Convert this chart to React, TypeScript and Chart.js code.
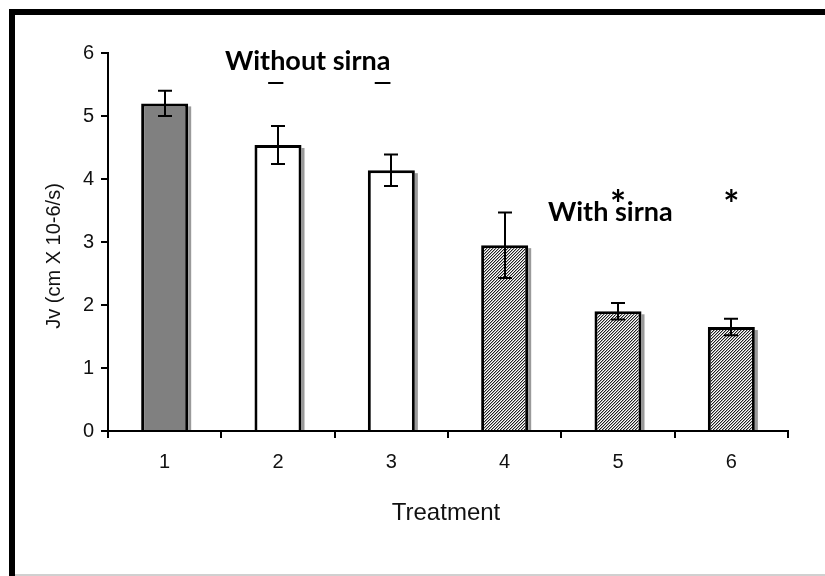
import React, { useEffect, useRef } from "react";
import { Chart, registerables } from "chart.js";

Chart.register(...registerables);

const categories = ["1", "2", "3", "4", "5", "6"];
const jvMeans = [5.2, 4.54, 4.14, 2.95, 1.9, 1.65];
const jvErrors = [0.2, 0.3, 0.25, 0.52, 0.13, 0.13];
const barFills = ["gray", "white", "white", "hatch", "hatch", "hatch"];
const significant = [false, false, false, false, true, true];
const yTitle = "Jv (cm X 10-6/s)";
const xTitle = "Treatment";
const groupWithout = "Without sirna";
const groupWith = "With sirna";
const asteriskLevel = 3.75;

function makeHatch(): CanvasPattern | string {
  const c = document.createElement("canvas");
  c.width = 3;
  c.height = 3;
  const g = c.getContext("2d");
  if (!g) return "#888";
  g.fillStyle = "#ffffff";
  g.fillRect(0, 0, 3, 3);
  for (let r = 0; r < 3; r++) {
    g.fillStyle = "#222222";
    g.fillRect((2 - r + 3) % 3, r, 1, 1);
    g.fillStyle = "#aaaaaa";
    g.fillRect((3 - r + 3) % 3, r, 1, 1);
  }
  return g.createPattern(c, "repeat") || "#888";
}

const decorPlugin = {
  id: "decor",
  beforeDatasetsDraw(chart: any) {
    const ctx = chart.ctx;
    const meta = chart.getDatasetMeta(0);
    ctx.save();
    ctx.fillStyle = "#9a9a9a";
    meta.data.forEach((el: any) => {
      const right = el.x + el.width / 2;
      ctx.fillRect(right, el.y + 3, 3, el.base - el.y - 3);
    });
    ctx.restore();
  },
  afterDatasetsDraw(chart: any) {
    const ctx = chart.ctx;
    const meta = chart.getDatasetMeta(0);
    const y = chart.scales.y;
    ctx.save();
    ctx.strokeStyle = "#000";
    ctx.lineWidth = 2;
    meta.data.forEach((el: any, i: number) => {
      const top = y.getPixelForValue(jvMeans[i] + jvErrors[i]);
      const bot = y.getPixelForValue(jvMeans[i] - jvErrors[i]);
      const x = Math.round(el.x);
      ctx.beginPath();
      ctx.moveTo(x, top);
      ctx.lineTo(x, bot);
      ctx.moveTo(x - 7, top);
      ctx.lineTo(x + 7, top);
      ctx.moveTo(x - 7, bot);
      ctx.lineTo(x + 7, bot);
      ctx.stroke();
    });
    ctx.restore();
  },
  afterDraw(chart: any) {
    const ctx = chart.ctx;
    const meta = chart.getDatasetMeta(0);
    const y = chart.scales.y;
    ctx.save();
    ctx.fillStyle = "#111";
    // y title
    ctx.save();
    ctx.translate(54, 256);
    ctx.rotate(-Math.PI / 2);
    ctx.font = '20px "Liberation Sans", Arial, sans-serif';
    ctx.textAlign = "center";
    ctx.textBaseline = "middle";
    ctx.fillText(yTitle, 0, 0);
    ctx.restore();
    // x title
    ctx.font = '24px "Liberation Sans", Arial, sans-serif';
    ctx.textAlign = "center";
    ctx.textBaseline = "alphabetic";
    ctx.fillText(xTitle, 446, 520);
    // group labels
    ctx.fillStyle = "#000";
    ctx.font = 'bold 27px Lato, "Open Sans", sans-serif';
    ctx.textAlign = "left";
    const wx = 225;
    const wy = 70;
    ctx.fillText(groupWithout, wx, wy);
    const hStart = wx + ctx.measureText("Wit").width;
    const hW = ctx.measureText("h").width;
    const aStart = wx + ctx.measureText("Without sirn").width;
    const aW = ctx.measureText("a").width;
    ctx.fillRect(hStart - 2, wy + 12, hW, 2);
    ctx.fillRect(aStart - 2, wy + 12, aW + 2, 2);
    ctx.fillText(groupWith, 548, 221);
    // asterisks
    ctx.font = 'bold 38px Lato, "Open Sans", sans-serif';
    ctx.textAlign = "center";
    ctx.textBaseline = "middle";
    meta.data.forEach((el: any, i: number) => {
      if (significant[i]) {
        ctx.fillText("*", el.x, y.getPixelForValue(asteriskLevel) + 11);
      }
    });
    ctx.restore();
  },
};

export default function App() {
  const ref = useRef<HTMLCanvasElement | null>(null);
  useEffect(() => {
    if (!ref.current) return;
    const hatch = makeHatch();
    const colors = barFills.map((f) =>
      f === "gray" ? "#808080" : f === "white" ? "#ffffff" : hatch
    );
    const tickFont = { family: '"Liberation Sans", Arial, sans-serif', size: 20 };
    const chart = new Chart(ref.current, {
      type: "bar",
      data: {
        labels: categories,
        datasets: [
          {
            data: jvMeans,
            backgroundColor: colors as any,
            borderColor: "#000",
            borderWidth: 3,
            borderSkipped: "start",
            barPercentage: 0.415,
            categoryPercentage: 1,
          },
        ],
      },
      options: {
        animation: false,
        responsive: false,
        maintainAspectRatio: false,
        devicePixelRatio: 1,
        layout: { padding: { left: 0, top: 53, right: 37, bottom: 0 } },
        plugins: { legend: { display: false }, tooltip: { enabled: false } },
        scales: {
          x: {
            offset: true,
            grid: {
              offset: true,
              drawOnChartArea: false,
              drawTicks: true,
              tickLength: 7,
              color: "#000",
              lineWidth: 2,
            },
            border: { display: true, color: "#000", width: 2 },
            ticks: { color: "#111", font: tickFont, padding: 12 },
            afterFit: (s: any) => {
              s.height = 145;
            },
          },
          y: {
            min: 0,
            max: 6,
            ticks: { stepSize: 1, color: "#111", font: tickFont, padding: 7 },
            grid: {
              drawOnChartArea: false,
              drawTicks: true,
              tickLength: 7,
              color: "#000",
              lineWidth: 2,
            },
            border: { display: true, color: "#000", width: 2 },
            afterFit: (s: any) => {
              s.width = 108;
            },
          },
        },
      },
      plugins: [decorPlugin],
    });
    return () => chart.destroy();
  }, []);

  return (
    <div style={{ position: "fixed", left: 0, top: 0, width: 825, height: 576, background: "#fff" }}>
      <canvas ref={ref} width={825} height={576} style={{ position: "absolute", left: 0, top: 0, width: 825, height: 576 }} />
      <div style={{ position: "absolute", left: 9, top: 9, width: 816, height: 6, background: "#000" }} />
      <div style={{ position: "absolute", left: 9, top: 9, width: 6, height: 567, background: "#000" }} />
      <div style={{ position: "absolute", left: 15, top: 574, width: 810, height: 2, background: "#d0d0d0" }} />
    </div>
  );
}
